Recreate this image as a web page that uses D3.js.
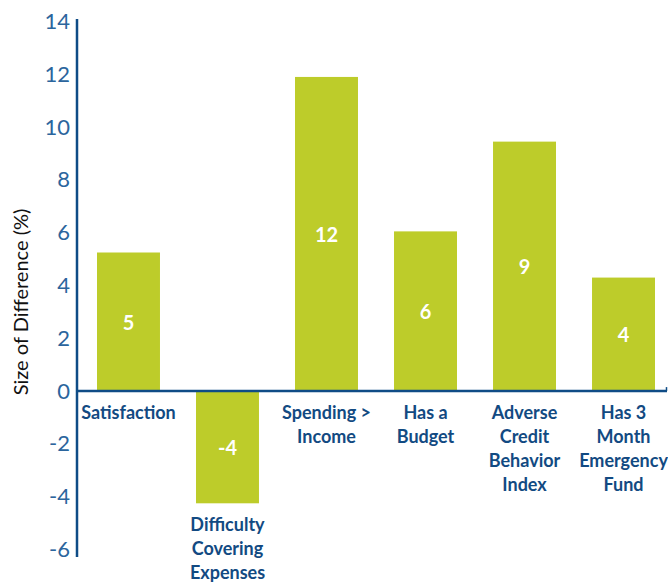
<!DOCTYPE html>
<html>
<head>
<meta charset="utf-8">
<script src="https://cdn.jsdelivr.net/npm/d3@7"></script>
<style>
  body { margin: 0; background: #fff; }
  svg { display: block; font-family: Lato, "Open Sans", sans-serif; }
  .tick-label { fill: #2b659d; font-size: 22px; }
  .cat-label { fill: #124a82; font-size: 18px; font-weight: bold; }
  .val-label { fill: #fff; font-size: 20px; font-weight: bold; }
</style>
</head>
<body>
<svg width="668" height="582"></svg>
<script>
// data
var categories = [
  ["Satisfaction"],
  ["Difficulty", "Covering", "Expenses"],
  ["Spending >", "Income"],
  ["Has a", "Budget"],
  ["Adverse", "Credit", "Behavior", "Index"],
  ["Has 3", "Month", "Emergency", "Fund"]
];
var values = [5.25, -4.25, 11.9, 6.05, 9.45, 4.3];
var valueLabels = ["5", "-4", "12", "6", "9", "4"];
var yTicks = [-6, -4, -2, 0, 2, 4, 6, 8, 10, 12, 14];

var svg = d3.select("svg"),
    axisX = 77;

var y = d3.scaleLinear()
    .domain([-6, 14])
    .range([549.5, 21.5]);

var x = d3.scaleBand()
    .domain(d3.range(values.length))
    .range([axisX, 675])
    .paddingInner(0.364)
    .paddingOuter(0.202);

var blue = "#0f4c86";

// bars
svg.selectAll(".bar")
    .data(values)
    .enter().append("rect")
    .attr("class", "bar")
    .attr("x", (d, i) => x(i))
    .attr("y", d => y(Math.max(0, d)))
    .attr("width", x.bandwidth())
    .attr("height", d => Math.abs(y(d) - y(0)))
    .attr("fill", "#bdcc2a");

// y axis line
svg.append("line")
    .attr("x1", axisX).attr("x2", axisX)
    .attr("y1", 19).attr("y2", 557)
    .attr("stroke", blue).attr("stroke-width", 2.5);

// zero line
svg.append("line")
    .attr("x1", axisX).attr("x2", 667)
    .attr("y1", y(0)).attr("y2", y(0))
    .attr("stroke", blue).attr("stroke-width", 2.5);
svg.append("line")
    .attr("x1", 666.5).attr("x2", 666.5)
    .attr("y1", y(0) - 4).attr("y2", y(0))
    .attr("stroke", blue).attr("stroke-width", 1.5);

// tick labels
svg.selectAll(".tick-label")
    .data(yTicks)
    .enter().append("text")
    .attr("class", "tick-label")
    .attr("x", 70)
    .attr("y", d => y(d) + 2)
    .attr("text-anchor", "end")
    .attr("dominant-baseline", "middle")
    .text(d => d);

// y title
svg.append("text")
    .attr("transform", "translate(28," + 302 + ") rotate(-90)")
    .attr("text-anchor", "middle")
    .attr("font-size", 20)
    .attr("fill", "#111")
    .text("Size of Difference (%)");

// value labels
svg.selectAll(".val-label")
    .data(values)
    .enter().append("text")
    .attr("class", "val-label")
    .attr("x", (d, i) => x(i) + x.bandwidth() / 2)
    .attr("y", d => (y(d) + y(0)) / 2)
    .attr("text-anchor", "middle")
    .attr("dominant-baseline", "central")
    .text((d, i) => valueLabels[i]);

// category labels
var cat = svg.selectAll(".cat-label")
    .data(categories)
    .enter().append("text")
    .attr("class", "cat-label")
    .attr("text-anchor", "middle")
    .attr("transform", (d, i) => {
        var top = values[i] < 0 ? y(values[i]) : y(0);
        return "translate(" + (x(i) + x.bandwidth() / 2) + "," + (top + 28) + ")";
    });
cat.selectAll("tspan")
    .data(d => d)
    .enter().append("tspan")
    .attr("x", 0)
    .attr("dy", (d, j) => j === 0 ? 0 : 24)
    .text(d => d);
</script>
</body>
</html>
